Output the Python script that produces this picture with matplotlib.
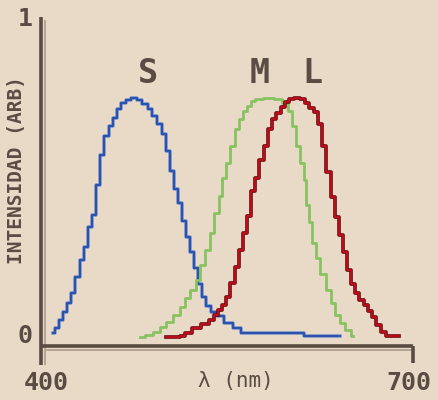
#!/usr/bin/env python3
# cone sensitivity curves (S, M, L), pixel-art look

import matplotlib
matplotlib.use('Agg')
import matplotlib.pyplot as plt
import matplotlib.patheffects as pe
from matplotlib.transforms import ScaledTranslation


#______________________________DATA____________________________________________
s_wl = [409.7, 412.9, 416.1, 419.4, 422.6, 425.8, 429.8, 433.1, 436.3, 439.5, 442.7, 446.0,
        449.2, 453.2, 456.5, 459.7, 462.9, 466.1, 470.2, 475.0, 479.8, 483.9, 487.9, 491.9,
        495.9, 499.2, 502.4, 505.6, 508.9, 512.1, 515.3, 518.6, 521.8, 525.0, 528.2, 531.5,
        534.7, 538.7, 544.4, 550.8, 558.1, 564.5, 611.3, 613.7, 641.1]
s_val = [0.0, 0.016, 0.041, 0.066, 0.095, 0.126, 0.177, 0.230, 0.271, 0.334, 0.372, 0.467,
         0.562, 0.625, 0.656, 0.681, 0.710, 0.729, 0.738, 0.744, 0.738, 0.726, 0.710, 0.688,
         0.662, 0.631, 0.577, 0.514, 0.457, 0.413, 0.356, 0.303, 0.256, 0.205, 0.155, 0.114,
         0.085, 0.066, 0.054, 0.032, 0.016, 0.0, 0.0, -0.01, -0.01]

m_wl = [479.8, 487.9, 493.5, 498.4, 504.0, 509.7, 514.5, 518.5, 522.6, 526.6, 530.6, 533.9,
        537.9, 541.9, 544.4, 547.6, 550.8, 554.0, 558.1, 561.3, 564.5, 567.7, 571.0, 574.2,
        583.1, 592.7, 596.8, 600.8, 604.0, 607.3, 610.5, 612.9, 615.3, 617.0, 619.4, 623.4,
        627.4, 631.5, 635.5, 639.5, 643.5, 647.6, 651.6]
m_val = [-0.013, -0.006, 0.003, 0.019, 0.035, 0.057, 0.082, 0.110, 0.136, 0.167, 0.215, 0.262,
         0.315, 0.379, 0.435, 0.489, 0.539, 0.593, 0.647, 0.678, 0.703, 0.719, 0.735, 0.741,
         0.744, 0.741, 0.729, 0.703, 0.656, 0.593, 0.539, 0.483, 0.404, 0.350, 0.284, 0.237,
         0.186, 0.136, 0.095, 0.057, 0.032, 0.009, -0.01]

l_wl = [500.8, 509.7, 513.7, 518.5, 525.8, 532.3, 537.9, 541.1, 544.4, 547.6, 550.8, 554.0,
        558.1, 561.3, 564.5, 567.7, 571.0, 574.2, 578.2, 581.5, 584.7, 587.9, 591.1, 595.2,
        598.4, 601.6, 606.5, 611.3, 614.5, 618.5, 621.8, 625.0, 628.2, 631.5, 635.5, 638.7,
        641.9, 645.2, 648.4, 651.6, 654.8, 658.9, 662.1, 665.3, 668.5, 672.6, 675.8, 680.6,
        688.7]
l_val = [-0.013, -0.013, -0.01, 0.0, 0.016, 0.028, 0.041, 0.057, 0.073, 0.088, 0.114, 0.158,
         0.208, 0.262, 0.315, 0.369, 0.451, 0.489, 0.546, 0.593, 0.647, 0.678, 0.697, 0.716,
         0.732, 0.741, 0.744, 0.741, 0.729, 0.713, 0.700, 0.662, 0.593, 0.508, 0.432, 0.366,
         0.309, 0.256, 0.199, 0.155, 0.126, 0.104, 0.088, 0.069, 0.050, 0.025, 0.003, -0.01,
         -0.01]

curve_labels = ['S', 'M', 'L']
label_pos = [(486, 0.82), (576, 0.82), (619, 0.82)]
x_ticks = [400, 700]
y_ticks = [0, 1]


#______________________________STYLE___________________________________________
bg = '#e8dac6'
ink = '#5a4b43'
shadow = '#b3a493'
mono = 'DejaVu Sans Mono'


#______________________________PLOT____________________________________________
fig = plt.figure(figsize=(4.39, 4.00), dpi=100, facecolor=bg)
ax = fig.add_axes([41/439, 54/400, 372/439, 329/400])
ax.set_facecolor(bg)
ax.set_xlim(400, 700)
ax.set_ylim(-0.041, 1.0)

ax.plot(s_wl, s_val, color='#2c52b0', lw=1.7, drawstyle='steps-mid',
        path_effects=[pe.Stroke(linewidth=2.6, foreground='#94a6d0'), pe.Normal()])
ax.plot(m_wl, m_val, color='#88c262', lw=2.0, drawstyle='steps-mid')
ax.plot(l_wl, l_val, color='#c8101e', lw=1.2, drawstyle='steps-mid',
        path_effects=[pe.Stroke(linewidth=2.6, foreground='#6a0008'), pe.Normal()])

for lab, (lx, ly) in zip(curve_labels, label_pos):
    ax.text(lx, ly, lab, color=ink, fontsize=24, fontweight='bold', family=mono,
            ha='center', va='center')

# axes, pixel style with light shadow
for s in ['top', 'right', 'left', 'bottom']:
    ax.spines[s].set_visible(False)
ax.plot([0.0, 0.0], [-0.058, 1.0], color=ink, lw=2.6, transform=ax.transAxes,
        clip_on=False, solid_capstyle='butt')
ax.plot([0.012, 0.012], [-0.058, 0.99], color=shadow, lw=1.4, transform=ax.transAxes,
        clip_on=False, solid_capstyle='butt')
ax.plot([0.0, 1.0], [0.0, 0.0], color=ink, lw=2.6, transform=ax.transAxes,
        clip_on=False, solid_capstyle='butt')
ax.plot([0.012, 1.0], [-0.011, -0.011], color=shadow, lw=1.4, transform=ax.transAxes,
        clip_on=False, solid_capstyle='butt')
ax.plot([1.0, 1.0], [0.0, -0.052], color=ink, lw=2.6, transform=ax.transAxes,
        clip_on=False, solid_capstyle='butt')

ax.set_xticks(x_ticks)
ax.set_xticklabels([str(t) for t in x_ticks])
ax.set_yticks(y_ticks)
ax.set_yticklabels([str(t) for t in y_ticks])
ax.tick_params(length=0, colors=ink, labelsize=18)
ax.tick_params(axis='x', pad=18)
ax.tick_params(axis='y', pad=6)
for t in ax.get_xticklabels() + ax.get_yticklabels():
    t.set_family(mono)
    t.set_fontweight('bold')
xl = ax.get_xticklabels()
xl[0].set_transform(xl[0].get_transform() + ScaledTranslation(5/100, 0, fig.dpi_scale_trans))
xl[1].set_transform(xl[1].get_transform() + ScaledTranslation(-4/100, 0, fig.dpi_scale_trans))

ax.text(-0.067, 0.535, 'INTENSIDAD (ARB)', rotation=90, color=ink, fontsize=14,
        fontweight='bold', family=mono, ha='center', va='center', transform=ax.transAxes)
ax.text(0.524, -0.106, 'λ (nm)', color=ink, fontsize=15, family=mono,
        ha='center', va='center', transform=ax.transAxes)

fig.savefig('out.png', dpi=100, facecolor=bg)
